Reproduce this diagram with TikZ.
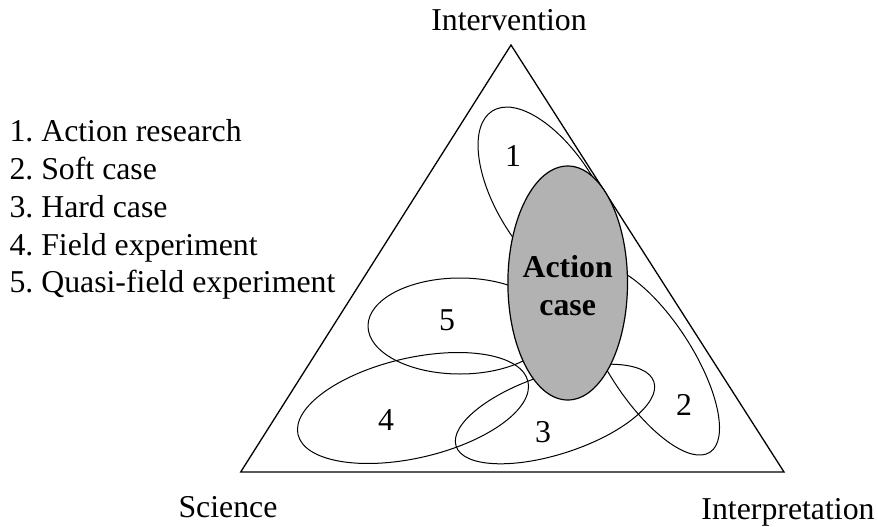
\documentclass[tikz,border=0pt]{standalone}
\usepackage{fontspec}
\setmainfont{Liberation Serif}
\usetikzlibrary{shapes.geometric}

\newcommand{\bigtext}{\fontsize{31.8}{37.8}\selectfont\frenchspacing}

\begin{document}
\begin{tikzpicture}[x=1pt, y=-1pt,
        method/.style={draw, line width=1pt},
        num/.style={anchor=base, inner sep=0pt, font=\bigtext},
        corner/.style={anchor=base, inner sep=0pt, font=\bigtext},
        legend/.style={anchor=base west, inner sep=0pt, font=\bigtext},
        action/.style={ellipse, draw, line width=1.2pt, fill=black!30,
            minimum width=119.6pt, minimum height=234pt, inner sep=0pt}]

    \useasboundingbox (0,0) rectangle (878,527);

    % triangle
    \coordinate (top) at (511,45);
    \coordinate (sci) at (240.7,472);
    \coordinate (int) at (784,472);
    \draw[line width=1.3pt] (top) -- (sci) -- (int) -- cycle;

    \node[corner] (intervention) at (509,30.7) {Intervention};
    \node[corner] (science) at (228,517.3) {Science};
    \node[corner] (interpretation) at (788,519) {Interpretation};

    % the five methods
    \draw[method, rotate around={-58:(548,200)}] (548,200) ellipse [x radius=105, y radius=50];
    \draw[method, rotate around={-57:(650,360)}] (650,360) ellipse [x radius=110, y radius=42];
    \draw[method, rotate around={18:(555,414)}] (555,414) ellipse [x radius=104, y radius=40];
    \draw[method, rotate around={13:(413,408)}] (413,408) ellipse [x radius=118, y radius=50];
    \draw[method] (460,326) ellipse [x radius=92, y radius=48];

    \node[num] (n1) at (513,166) {1};
    \node[num] (n2) at (684,415.7) {2};
    \node[num] (n3) at (543,442.7) {3};
    \node[num] (n4) at (386,430) {4};
    \node[num] (n5) at (447,330.7) {5};

    % action case on top
    \node[action] (ac) at (567.7,283) {};
    \node[align=center, inner sep=0pt, font=\bigtext\bfseries] (aclabel)
        at ([yshift=-3pt]ac.center) {Action\\case};

    % legend
    \foreach \i/\t in {1/Action research, 2/Soft case, 3/Hard case,
                       4/Field experiment, 5/Quasi-field experiment}
        \node[legend] (leg\i) at (9.3, {141.7+(\i-1)*37.8}) {\i. \t};
\end{tikzpicture}
\end{document}
